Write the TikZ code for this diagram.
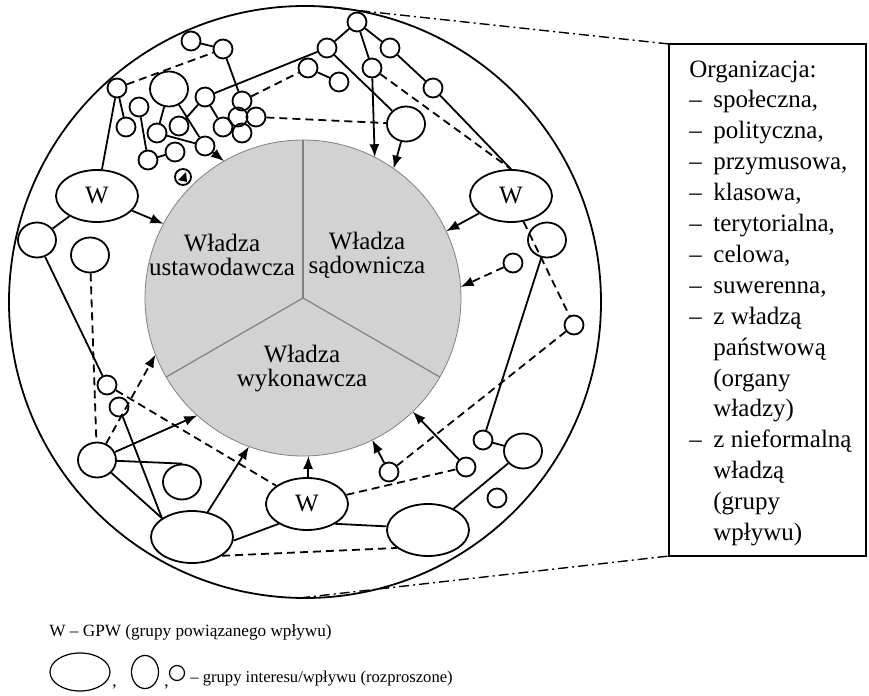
\documentclass[tikz,border=0pt]{standalone}
\usepackage{fontspec}
\setmainfont{Liberation Serif}
\usetikzlibrary{shapes.geometric,arrows.meta}

\newcommand{\orgdash}{\makebox[12pt][l]{–}}
\newcommand{\orgind}{\hspace*{12pt}}

\tikzset{
  sm/.style={circle,draw,line width=0.9pt,minimum size=9.5pt,inner sep=0pt},
  md/.style={ellipse,draw,line width=0.9pt,minimum width=19pt,minimum height=17.5pt,inner sep=0pt},
  bg/.style={ellipse,draw,line width=0.9pt,minimum width=41pt,minimum height=26pt,inner sep=0pt,
    font=\fontsize{12.5}{12}\selectfont},
  link/.style={line width=0.9pt},
  dlink/.style={line width=0.9pt,dash pattern=on 4pt off 2.5pt},
  tip/.style={-{Latex[length=6.5pt,width=5pt]}},
  dashdotline/.style={line width=0.7pt,dash pattern=on 5pt off 2pt on 1pt off 2pt},
  txt/.style={align=center,font=\fontsize{12.5}{12}\selectfont},
  boxtxt/.style={anchor=base west,inner sep=0pt,font=\fontsize{12.5}{15}\selectfont},
}

\begin{document}
\begin{tikzpicture}[x=0.5pt,y=-0.5pt]
  \useasboundingbox (0,0) rectangle (869,696);

  % panstwo i trzy wladze
  \node[circle,draw,line width=0.9pt,minimum size=296pt,inner sep=0pt,outer sep=0pt] (oc) at (305,302) {};
  \node[circle,draw=gray,fill=gray!35,minimum size=158pt,inner sep=0pt,outer sep=0pt] (gc) at (303,298) {};
  \foreach \a in {90,210,330}
    \draw[gray,line width=0.6pt] (gc.center) -- (gc.\a);
  \node[txt] (ustaw) at (222,255) {Władza\\ustawodawcza};
  \node[txt] (sad) at (367,255) {Władza\\sądownicza};
  \node[txt] (wyk) at (302,369) {Władza\\wykonawcza};

  % grupy
  \foreach \n/\x/\y in {c1/191/41, c2/223/49, c3/117/88, c5/139/107, c6/126/127,
      c7/205/97, c8/242/101, c9/238/117, c10/256/117, c11/223/127, c12/242/133,
      c13/179/126, c14/157/133, c15/205/146, c16/175/152, c17/148/160,
      d1/357/22, d2/327/48, d3/390/48, d4/308/68, d5/339/82, d6/372/68, d7/433/88,
      e2/513/263, e3/574/325, f1/389/472, f2/483/440, f3/466/467, f5/497/498,
      g3/119/407, g4/107/385}
    \node[sm] (\n) at (\x,\y) {};
  \foreach \n/\x/\y in {c4/169/89, d8/406/124, e1/547/240, f4/523/451,
      g1/97/460, g2/182/482, h1/37/240, h2/90/255}
    \node[md] (\n) at (\x,\y) {};
  \node[bg] (W1) at (97,196) {W};
  \node[bg] (W2) at (511,196) {W};
  \node[bg] (W3) at (307,504) {W};
  \node[bg] (E1) at (192,537) {};
  \node[bg] (E2) at (428,530) {};

  \node[sm,minimum size=8pt] (mk) at (183,177) {};
  \fill ([shift={(-5,3)}]mk.center) -- ([shift={(3,-5)}]mk.center) -- ([shift={(4,5)}]mk.center) -- cycle;

  % powiazania
  \foreach \a/\b in {c1/c2, c2/c8, c3/c6, c3/W1, c4/c14, c4/c15, c5/c17, c17/c16,
      c14/c15, c7/c13, c7/c11, c7/d2, d1/d2, d1/d3, d1/d6, d2/d8, d4/d5, d3/d7,
      d7/W2.north, W1/h1, h1/g4, g1/g2.north, g1/E1.148, g3/E1.148, E1.-5/W3.215,
      W3.-35/E2.175, E2/f4, f2/f4, e1/f2}
    \draw[link] (\a) -- (\b);
  \foreach \a/\b in {c3/c2, c8/d4, c10/d8, d6/W2.north, W2/e3, e3/f1, W3/f3,
      E1.-32/E2.210, g4/W3, h2/g1}
    \draw[dlink] (\a) -- (\b);

  % wplyw na wladze
  \foreach \a/\b in {c15/120, d6/63, d8/55, W2/25, f3/-46, f1/-64, W3/-88,
      E1/-110, g1/-132, W1/152}
    \draw[link,tip] (\a) -- (gc.\b);
  \foreach \a/\b in {e2/4, g1/201}
    \draw[dlink,tip] (\a) -- (gc.\b);

  % organizacja
  \node[draw,line width=0.9pt,minimum width=98.5pt,minimum height=256pt,inner sep=0pt,outer sep=0pt] (org) at (767.5,300) {};
  \draw[dashdotline] (oc.87) -- (org.north west);
  \draw[dashdotline] (oc.-91) -- (org.south west);
  \foreach \t [count=\i from 0] in {Organizacja:, {\orgdash społeczna,}, {\orgdash polityczna,},
      {\orgdash przymusowa,}, {\orgdash klasowa,}, {\orgdash terytorialna,}, {\orgdash celowa,},
      {\orgdash suwerenna,}, {\orgdash z władzą}, {\orgind państwową}, {\orgind (organy},
      {\orgind władzy)}, {\orgdash z nieformalną}, {\orgind władzą}, {\orgind (grupy},
      {\orgind wpływu)}}
    \node[boxtxt] (o\i) at (689,77+30.9*\i) {\t};

  % legenda
  \node[anchor=base west,inner sep=0pt,font=\fontsize{8.6}{10}\selectfont] (lg1) at (49,636) {W – GPW (grupy powiązanego wpływu)};
  \node[ellipse,draw,line width=0.6pt,minimum width=30pt,minimum height=19pt,inner sep=0pt] (lgE) at (80,672) {};
  \node[anchor=base west,inner sep=0pt,font=\fontsize{8.6}{10}\selectfont] (cm1) at (112,686) {,};
  \node[ellipse,draw,line width=0.6pt,minimum width=13.5pt,minimum height=16.5pt,inner sep=0pt] (lgM) at (145,672) {};
  \node[anchor=base west,inner sep=0pt,font=\fontsize{8.6}{10}\selectfont] (cm2) at (164,686) {,};
  \node[circle,draw,line width=0.6pt,minimum size=7.5pt,inner sep=0pt] (lgS) at (177,673) {};
  \node[anchor=base west,inner sep=0pt,font=\fontsize{8.3}{10}\selectfont] (lg2) at (190,682) {– grupy interesu/wpływu (rozproszone)};
\end{tikzpicture}
\end{document}
